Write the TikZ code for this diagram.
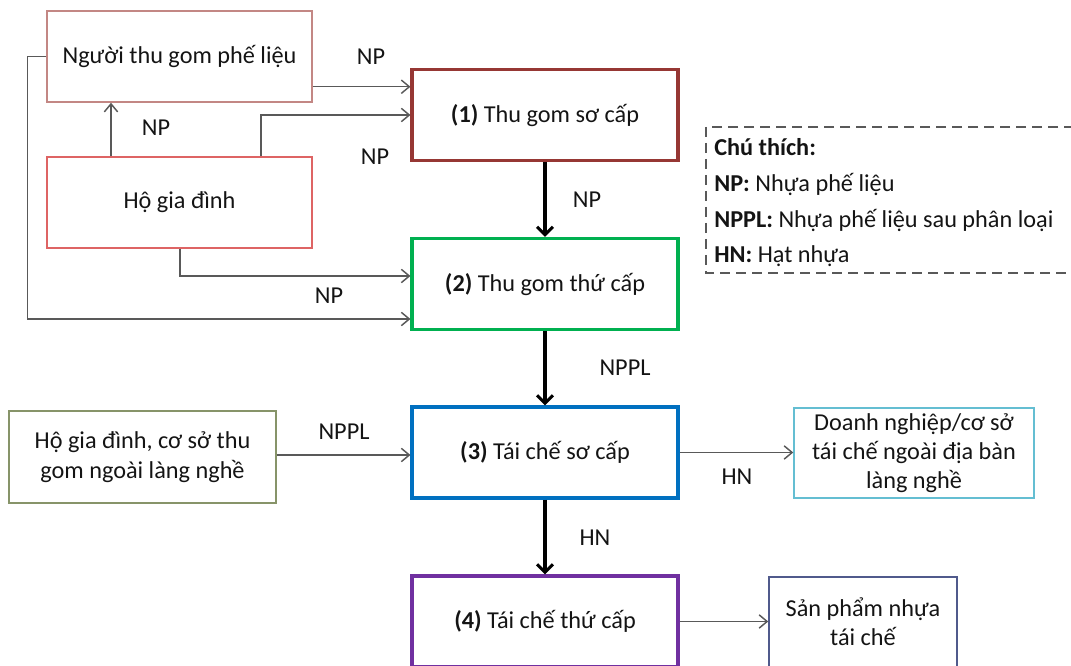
\documentclass[tikz,border=0pt]{standalone}
\usepackage{fontspec}
\setmainfont{Carlito}
\usetikzlibrary{arrows.meta,calc}
\definecolor{cNgt}{RGB}{195,135,132}
\definecolor{cHo}{RGB}{222,100,100}
\definecolor{cP1}{RGB}{150,55,52}
\definecolor{cP2}{RGB}{0,176,80}
\definecolor{cP3}{RGB}{0,112,192}
\definecolor{cP4}{RGB}{112,48,160}
\definecolor{cExt}{RGB}{135,148,105}
\definecolor{cDn}{RGB}{100,190,210}
\definecolor{cSp}{RGB}{80,90,140}
\definecolor{cLine}{RGB}{89,89,89}
\definecolor{cTxt}{RGB}{20,20,20}
\begin{document}
\begin{tikzpicture}[x=0.75pt,y=-0.75pt,
  font=\fontsize{18.2}{22}\selectfont, text=cTxt,
  lightbox/.style={draw=#1, line width=1.1pt, rectangle, inner sep=0pt, align=center},
  procbox/.style={draw=#1, line width=2.3pt, rectangle, inner sep=0pt, align=center,
     minimum width=266*0.75pt, minimum height=91*0.75pt},
  thinarrow/.style={draw=cLine, line width=1.1pt, -{Straight Barb[length=6pt,width=10pt]}},
  thickarrow/.style={draw=black, line width=2.3pt, -{Straight Barb[length=6pt,width=12pt]}},
  lbl/.style={inner sep=0pt}
]
\useasboundingbox (0,0) rectangle (1071,666);
\clip (0,0) rectangle (1071,666);

% boxes
\node[lightbox=cNgt, minimum width=265*0.75pt, minimum height=91*0.75pt] (ngt) at (179.5,56.5) {Người thu gom phế liệu};
\node[lightbox=cHo, minimum width=265*0.75pt, minimum height=91*0.75pt] (ho) at (179.5,202.5) {Hộ gia đình};
\node[procbox=cP1] (p1) at (545,115) {\textbf{(1)} Thu gom sơ cấp};
\node[procbox=cP2] (p2) at (545,284) {\textbf{(2)} Thu gom thứ cấp};
\node[procbox=cP3] (p3) at (545,452.5) {\textbf{(3)} Tái chế sơ cấp};
\node[procbox=cP4] (p4) at (545,621.5) {\textbf{(4)} Tái chế thứ cấp};
\node[lightbox=cExt, minimum width=267*0.75pt, minimum height=92*0.75pt] (ext) at (142.5,457) {Hộ gia đình, cơ sở thu\\gom ngoài làng nghề};
\node[lightbox=cDn, minimum width=240*0.75pt, minimum height=90*0.75pt] (dn) at (914,453) {Doanh nghiệp/cơ sở\\tái chế ngoài địa bàn\\làng nghề};
\node[lightbox=cSp, minimum width=188*0.75pt, minimum height=90*0.75pt] (sp) at (863,622) {Sản phẩm nhựa\\tái chế};

% legend
\draw[draw=cLine, line width=1.1pt, dash pattern=on 7.5pt off 4.5pt] (1090,127) -- (706,127) -- (706,273) -- (1090,273);
\node[lbl, anchor=west] (lg0) at (714,147) {\textbf{Chú thích:}};
\node[lbl, anchor=west] (lg1) at (714,184) {\textbf{NP:} Nhựa phế liệu};
\node[lbl, anchor=west] (lg2) at (714,220) {\textbf{NPPL:} Nhựa phế liệu sau phân loại};
\node[lbl, anchor=west] (lg3) at (714,256) {\textbf{HN:} Hạt nhựa};

% connectors
\coordinate (a1) at ($(ngt.south east)+(0,-16)$);
\draw[thinarrow] (a1) -- (a1 -| p1.west);
\coordinate (b1) at ($(ho.north)+(81.5,0)$);
\draw[thinarrow] (b1) |- (p1.west);
\coordinate (c1) at ($(ho.north)+(-68.5,0)$);
\draw[thinarrow] (c1) -- (c1 |- ngt.south);
\coordinate (d1) at ($(ho.south)+(0.5,0)$);
\coordinate (d2) at ($(p2.west)+(0,-8)$);
\draw[thinarrow] (d1) |- (d2);
\coordinate (e1) at ($(p2.west)+(0,35)$);
\coordinate (e0) at ($(ngt.west)+(-19,0)$);
\draw[thinarrow] (ngt.west) -- (e0) |- (e1);
\draw[thickarrow] (p1.south) -- (p2.north);
\draw[thickarrow] (p2.south) -- (p3.north);
\draw[thickarrow] (p3.south) -- (p4.north);
\coordinate (f1) at ($(ext.east)+(0,-2)$);
\draw[thinarrow] (f1) -- (f1 -| p3.west);
\draw[thinarrow] (p3.east) -- (p3.east -| dn.west);
\draw[thinarrow] (p4.east) -- (p4.east -| sp.west);

% labels
\node[lbl] (l1) at (371,57) {NP};
\node[lbl] (l2) at (156,128) {NP};
\node[lbl] (l3) at (375,157) {NP};
\node[lbl] (l4) at (329,296) {NP};
\node[lbl] (l5) at (587,200) {NP};
\node[lbl] (l6) at (625,368) {NPPL};
\node[lbl] (l7) at (344,432) {NPPL};
\node[lbl] (l8) at (737,477) {HN};
\node[lbl] (l9) at (595,538) {HN};
\end{tikzpicture}
\end{document}
